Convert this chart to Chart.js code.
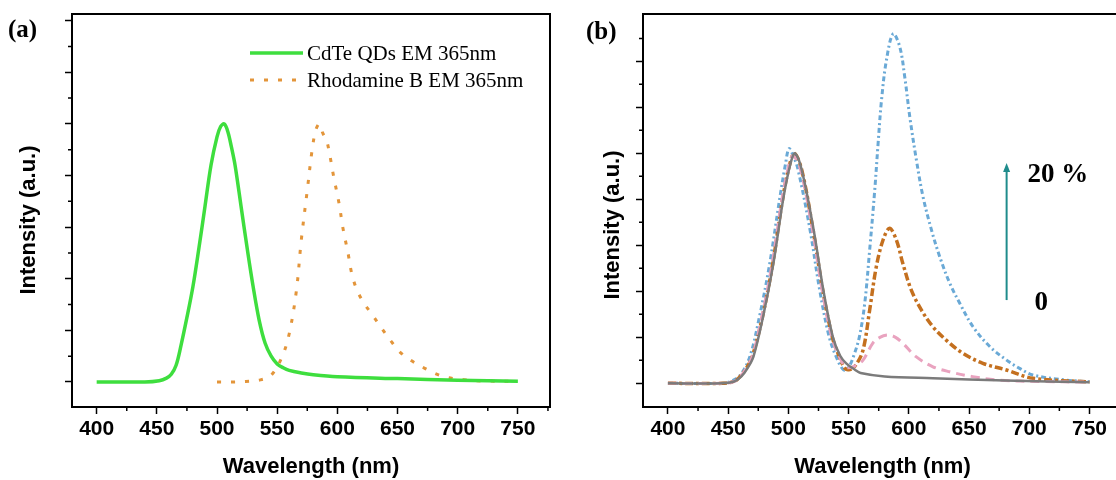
<!DOCTYPE html>
<html>
<head>
<meta charset="utf-8">
<script src="https://cdn.jsdelivr.net/npm/chart.js@4.4.1/dist/chart.umd.min.js"></script>
<style>
  html, body { margin: 0; padding: 0; background: #fff; }
  #wrap { position: relative; width: 1116px; height: 480px; overflow: hidden; }
  #pa { position: absolute; left: 0; top: 0; width: 560px; height: 480px; }
  #pb { position: absolute; left: 560px; top: 0; width: 556px; height: 480px; overflow: hidden; }
</style>
</head>
<body>
<div id="wrap">
  <div id="pa"><canvas id="chartA" width="560" height="480"></canvas></div>
  <div id="pb"><canvas id="chartB" width="600" height="480"></canvas></div>
</div>
<script>
// ---- axis ticks ----
const xTicks = [400, 450, 500, 550, 600, 650, 700, 750];
const xMinor = [425, 475, 525, 575, 625, 675, 725, 775];
const yMajor = [0, 0.2, 0.4, 0.6, 0.8, 1.0, 1.2, 1.4];
const yMinorA = [0.1, 0.3, 0.5, 0.7, 0.9, 1.1, 1.3];
const yMinorB = [0.1, 0.3, 0.5, 0.7, 0.9, 1.1, 1.3, 1.5];

// ---- panel (a): CdTe QDs emission ----
const cdteX = [400, 440, 452, 458, 462, 466, 470, 475, 480, 485, 490, 495, 500, 503, 506, 509, 512, 515, 520, 525, 530, 535, 540, 545, 550, 555, 560, 570, 580, 600, 650, 700, 750];
const cdteY = [0, 0, 0.005, 0.015, 0.03, 0.065, 0.14, 0.25, 0.37, 0.52, 0.68, 0.84, 0.95, 0.99, 1.0, 0.97, 0.91, 0.84, 0.68, 0.52, 0.37, 0.24, 0.15, 0.1, 0.07, 0.055, 0.045, 0.035, 0.028, 0.02, 0.013, 0.007, 0.003];

// ---- panel (a): Rhodamine B emission ----
const rhbX = [500, 512, 524, 536, 545, 554, 560, 566, 570, 575, 579, 582, 585, 588, 591, 594, 597, 601.5, 604.5, 609, 612, 616.4, 622.3, 628.3, 634.2, 640.1, 646.1, 652, 661, 673, 685, 696.5, 705, 720, 750];
const rhbY = [0, 0, 0.002, 0.008, 0.026, 0.097, 0.187, 0.355, 0.549, 0.743, 0.898, 0.975, 1.0, 0.963, 0.937, 0.872, 0.794, 0.69, 0.6, 0.496, 0.419, 0.355, 0.304, 0.265, 0.226, 0.187, 0.149, 0.116, 0.084, 0.052, 0.026, 0.013, 0.009, 0.004, 0.003];

// ---- panel (b): CdTe + RhB mixtures, 0 -> 20 % ----
const grayX = [400, 445, 455, 461, 466, 471, 479, 487.5, 496, 502, 505.5, 511, 521, 529, 537, 543, 548, 555, 560, 580, 620, 680, 750];
const grayY = [0, 0, 0.008, 0.03, 0.065, 0.116, 0.29, 0.52, 0.81, 0.96, 1.0, 0.93, 0.667, 0.406, 0.2, 0.12, 0.087, 0.06, 0.045, 0.03, 0.022, 0.012, 0.005];

const pinkX = [400, 445, 455, 460, 465, 470, 478, 486.5, 495, 501, 504, 510, 520, 528, 536, 542, 548, 555, 562, 570, 576, 582.7, 589, 595, 606, 620, 634, 653, 675, 710, 750];
const pinkY = [0, 0, 0.008, 0.03, 0.065, 0.116, 0.29, 0.52, 0.81, 0.96, 0.99, 0.93, 0.667, 0.406, 0.2, 0.12, 0.07, 0.075, 0.101, 0.174, 0.2, 0.21, 0.2, 0.174, 0.116, 0.072, 0.05, 0.029, 0.014, 0.008, 0.005];

const brownX = [400, 445, 455, 460, 465, 470, 478.5, 487, 495.5, 501.5, 505, 511, 520.5, 528.5, 536.5, 542, 547, 551, 556, 562, 567.5, 573, 578.6, 584, 589.7, 595, 602, 610.4, 620, 631, 645, 661.5, 681, 703, 750];
const brownY = [0, 0, 0.008, 0.03, 0.065, 0.116, 0.29, 0.52, 0.81, 0.96, 1.0, 0.93, 0.667, 0.406, 0.2, 0.12, 0.065, 0.06, 0.08, 0.145, 0.319, 0.507, 0.623, 0.674, 0.623, 0.522, 0.406, 0.319, 0.246, 0.188, 0.13, 0.087, 0.058, 0.022, 0.006];

const blueX = [400, 445, 452, 460, 468, 476, 484.5, 493, 497.5, 500.5, 504, 508, 518, 526, 534, 541, 546, 550, 554, 559, 563.4, 567.5, 571.7, 574.5, 577.3, 581.4, 587, 592.5, 596.6, 600.8, 606.3, 611.8, 618.8, 625.7, 634, 642.3, 653.3, 667.4, 681.2, 692, 703, 731, 750];
const blueY = [0, 0, 0.008, 0.035, 0.116, 0.29, 0.52, 0.81, 0.95, 1.02, 0.99, 0.93, 0.667, 0.406, 0.2, 0.1, 0.058, 0.07, 0.116, 0.203, 0.348, 0.58, 0.84, 1.043, 1.23, 1.405, 1.52, 1.463, 1.333, 1.159, 0.971, 0.811, 0.667, 0.55, 0.435, 0.348, 0.246, 0.159, 0.101, 0.065, 0.036, 0.014, 0.007];

const pts = (xs, ys) => xs.map((x, i) => ({ x, y: ys[i] }));

// minor ticks, box frame
const framePlugin = {
  id: "frame",
  afterDatasetsDraw(chart, args, o) {
    const { ctx, chartArea: a, scales } = chart;
    ctx.save();
    ctx.strokeStyle = "#000";
    ctx.lineWidth = 2;
    ctx.strokeRect(a.left, a.top, a.right - a.left, a.bottom - a.top);
    ctx.lineWidth = 1.5;
    ctx.beginPath();
    o.xMinor.forEach((v) => {
      const px = scales.x.getPixelForValue(v);
      ctx.moveTo(px, a.bottom);
      ctx.lineTo(px, a.bottom + 4);
    });
    o.yMinor.forEach((v) => {
      const py = scales.y.getPixelForValue(v);
      ctx.moveTo(a.left, py);
      ctx.lineTo(a.left - 4, py);
    });
    ctx.stroke();
    ctx.restore();
  },
};

// panel tag, y title, legend / arrow annotations
const decorPlugin = {
  id: "decor",
  afterDraw(chart, args, o) {
    const { ctx, scales } = chart;
    ctx.save();
    ctx.fillStyle = "#000";
    ctx.textBaseline = "middle";
    ctx.font = 'bold 25px "Liberation Serif"';
    ctx.fillText(o.tag, o.tagX, o.tagY);

    ctx.save();
    ctx.translate(o.yTitleX, o.yTitleY);
    ctx.rotate(-Math.PI / 2);
    ctx.textAlign = "center";
    ctx.font = 'bold 22px "Liberation Sans"';
    ctx.fillText("Intensity (a.u.)", 0, 0);
    ctx.restore();

    if (o.legend) {
      ctx.font = '21px "Liberation Serif"';
      chart.data.datasets.forEach((ds, i) => {
        const y = o.legend.y + i * o.legend.step;
        ctx.save();
        ctx.strokeStyle = ds.borderColor;
        ctx.lineWidth = ds.borderWidth;
        ctx.setLineDash(ds.borderDash || []);
        ctx.beginPath();
        ctx.moveTo(o.legend.x0, y);
        ctx.lineTo(o.legend.x1, y);
        ctx.stroke();
        ctx.restore();
        ctx.fillText(ds.label, o.legend.tx, y + 1);
      });
    }

    if (o.arrow) {
      const ar = o.arrow;
      const ax = scales.x.getPixelForValue(ar.x);
      const y0 = scales.y.getPixelForValue(ar.from);
      const y1 = scales.y.getPixelForValue(ar.to);
      ctx.strokeStyle = ar.color;
      ctx.fillStyle = ar.color;
      ctx.lineWidth = 2;
      ctx.beginPath();
      ctx.moveTo(ax, y0);
      ctx.lineTo(ax, y1 + 6);
      ctx.stroke();
      ctx.beginPath();
      ctx.moveTo(ax, y1);
      ctx.lineTo(ax - 3.5, y1 + 9);
      ctx.lineTo(ax + 3.5, y1 + 9);
      ctx.closePath();
      ctx.fill();
      ctx.fillStyle = "#000";
      ctx.font = 'bold 27px "Liberation Serif"';
      ar.labels.forEach((l) => {
        ctx.fillText(l.text, scales.x.getPixelForValue(l.x), scales.y.getPixelForValue(l.y));
      });
    }
    ctx.restore();
  },
};

function axes(xMin, xMax, yMin, yMax, yWidth) {
  const tickFont = { family: "Liberation Sans", weight: "bold", size: 21 };
  return {
    x: {
      type: "linear",
      min: xMin,
      max: xMax,
      afterFit: (s) => { s.height = 73; },
      afterBuildTicks: (s) => { s.ticks = xTicks.map((v) => ({ value: v })); },
      grid: { drawOnChartArea: false, drawTicks: true, tickLength: 7, tickWidth: 1.5, tickColor: "#000" },
      border: { display: false },
      ticks: { font: tickFont, color: "#000", padding: 3, maxRotation: 0, autoSkip: false },
      title: {
        display: true,
        text: "Wavelength (nm)",
        color: "#000",
        font: { family: "Liberation Sans", weight: "bold", size: 22 },
        padding: { top: 0, bottom: 0 },
      },
    },
    y: {
      type: "linear",
      min: yMin,
      max: yMax,
      afterFit: (s) => { s.width = yWidth; },
      afterBuildTicks: (s) => { s.ticks = yMajor.map((v) => ({ value: v })); },
      grid: { drawOnChartArea: false, drawTicks: true, tickLength: 7, tickWidth: 1.5, tickColor: "#000" },
      border: { display: false },
      ticks: { display: false },
    },
  };
}

const lineDefaults = { pointRadius: 0, fill: false, tension: 0.35, showLine: true };

new Chart(document.getElementById("chartA"), {
  type: "scatter",
  data: {
    datasets: [
      { ...lineDefaults, label: "CdTe QDs EM 365nm", data: pts(cdteX, cdteY), borderColor: "#3ede3e", borderWidth: 3.5 },
      { ...lineDefaults, label: "Rhodamine B EM 365nm", data: pts(rhbX, rhbY), borderColor: "#e3953a", borderWidth: 3, borderDash: [4, 10] },
    ],
  },
  options: {
    responsive: false,
    animation: false,
    layout: { padding: { top: 14, right: 10, left: 0, bottom: 0 } },
    scales: axes(379.5, 776.7, -0.097, 1.426, 72),
    plugins: {
      legend: { display: false },
      tooltip: { enabled: false },
      frame: { xMinor, yMinor: yMinorA },
      decor: {
        tag: "(a)", tagX: 8, tagY: 31,
        yTitleX: 29, yTitleY: 220,
        legend: { x0: 250, x1: 303, tx: 307, y: 53, step: 27 },
      },
    },
  },
  plugins: [framePlugin, decorPlugin],
});

new Chart(document.getElementById("chartB"), {
  type: "scatter",
  data: {
    datasets: [
      { ...lineDefaults, label: "0", data: pts(grayX, grayY), borderColor: "#7b7b7b", borderWidth: 2.5 },
      { ...lineDefaults, label: "pink", data: pts(pinkX, pinkY), borderColor: "#e9a3bf", borderWidth: 3, borderDash: [9, 6] },
      { ...lineDefaults, label: "brown", data: pts(brownX, brownY), borderColor: "#c4701f", borderWidth: 3.5, borderDash: [8, 3, 3, 3] },
      { ...lineDefaults, label: "20 %", data: pts(blueX, blueY), borderColor: "#6aa9d6", borderWidth: 3, borderDash: [5, 3, 2, 3] },
    ],
  },
  options: {
    responsive: false,
    animation: false,
    layout: { padding: { top: 14, right: 38, left: 0, bottom: 0 } },
    scales: axes(379.3, 777, -0.103, 1.606, 83),
    plugins: {
      legend: { display: false },
      tooltip: { enabled: false },
      frame: { xMinor, yMinor: yMinorB },
      decor: {
        tag: "(b)", tagX: 26, tagY: 33,
        yTitleX: 53, yTitleY: 225,
        arrow: {
          x: 681.2, from: 0.362, to: 0.958, color: "#1f8c8c",
          labels: [{ text: "20 %", x: 698.6, y: 0.905 }, { text: "0", x: 704.4, y: 0.349 }],
        },
      },
    },
  },
  plugins: [framePlugin, decorPlugin],
});
</script>
</body>
</html>
